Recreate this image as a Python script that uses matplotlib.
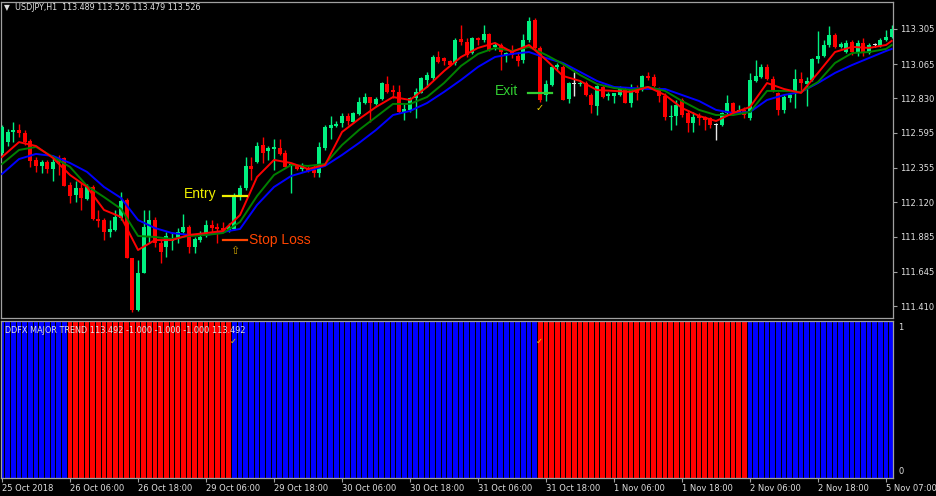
import matplotlib
matplotlib.use('Agg')
import matplotlib.pyplot as plt

# USDJPY H1 candles, bar 0 = 25 Oct 2018
opens = [
    112.456, 112.531, 112.600, 112.614, 112.593, 112.538, 112.409, 112.368, 112.395, 112.347,
    112.409, 112.422, 112.238, 112.169, 112.217, 112.142, 112.224, 112.005, 111.998, 111.916,
    111.930, 112.012, 112.135, 111.738, 111.383, 111.636, 111.882, 111.998, 111.841, 111.814,
    111.855, 111.875, 111.916, 111.950, 111.814, 111.861, 111.909, 111.964, 111.950, 111.943,
    111.923, 111.937, 112.155, 112.217, 112.368, 112.395, 112.511, 112.470, 112.484, 112.491,
    112.456, 112.368, 112.368, 112.347, 112.354, 112.340, 112.320, 112.491, 112.627, 112.641,
    112.662, 112.710, 112.668, 112.723, 112.798, 112.839, 112.792, 112.826, 112.928, 112.887,
    112.874, 112.737, 112.751, 112.833, 112.867, 112.956, 112.970, 113.113, 113.106, 113.086,
    113.072, 113.236, 113.216, 113.140, 113.243, 113.229, 113.270, 113.182, 113.195, 113.127,
    113.154, 113.120, 113.093, 113.229, 113.366, 113.175, 112.853, 112.922, 113.045, 113.045,
    112.826, 112.928, 112.928, 112.935, 112.853, 112.778, 112.908, 112.846, 112.846, 112.853,
    112.894, 112.798, 112.887, 112.887, 112.983, 112.976, 112.894, 112.846, 112.703, 112.710,
    112.819, 112.730, 112.662, 112.710, 112.703, 112.696, 112.648, 112.648, 112.730, 112.798,
    112.737, 112.751, 112.696, 112.949, 112.976, 113.045, 112.963, 112.867, 112.751, 112.833,
    112.874, 112.963, 112.928, 112.956, 113.099, 113.120, 113.195, 113.264, 113.182, 113.147,
    113.216, 113.140, 113.209, 113.140, 113.195, 113.188, 113.229, 113.250,
]
highs = [
    112.648, 112.620, 112.668, 112.655, 112.614, 112.552, 112.429, 112.409, 112.409, 112.422,
    112.443, 112.429, 112.258, 112.265, 112.251, 112.244, 112.238, 112.067, 112.012, 111.998,
    112.067, 112.190, 112.149, 111.740, 111.725, 112.067, 112.067, 112.019, 111.861, 111.916,
    111.916, 111.943, 112.039, 111.964, 111.882, 111.923, 111.998, 111.998, 111.978, 111.985,
    111.978, 112.183, 112.238, 112.429, 112.429, 112.531, 112.565, 112.504, 112.552, 112.552,
    112.477, 112.388, 112.374, 112.388, 112.368, 112.374, 112.531, 112.648, 112.710, 112.675,
    112.730, 112.730, 112.737, 112.839, 112.867, 112.842, 112.839, 112.942, 112.983, 112.922,
    112.922, 112.798, 112.839, 112.901, 112.976, 113.011, 113.127, 113.154, 113.113, 113.093,
    113.243, 113.332, 113.243, 113.250, 113.250, 113.332, 113.277, 113.209, 113.209, 113.147,
    113.195, 113.147, 113.270, 113.387, 113.380, 113.188, 112.956, 113.058, 113.072, 113.058,
    112.942, 113.011, 112.956, 112.949, 112.867, 112.922, 112.922, 112.874, 112.870, 112.915,
    112.908, 112.928, 112.922, 112.990, 113.011, 112.997, 112.908, 112.867, 112.785, 112.819,
    112.833, 112.751, 112.737, 112.730, 112.710, 112.703, 112.662, 112.737, 112.853, 112.805,
    112.785, 112.771, 113.004, 113.093, 113.065, 113.065, 112.983, 112.874, 112.853, 112.867,
    113.031, 113.011, 112.976, 113.106, 113.291, 113.229, 113.325, 113.277, 113.216, 113.229,
    113.229, 113.229, 113.243, 113.209, 113.209, 113.243, 113.298, 113.332,
]
lows = [
    112.443, 112.504, 112.531, 112.565, 112.511, 112.361, 112.327, 112.320, 112.320, 112.265,
    112.306, 112.228, 112.114, 112.121, 112.067, 112.135, 112.000, 111.950, 111.861, 111.882,
    111.923, 111.998, 111.735, 111.369, 111.376, 111.633, 111.841, 111.814, 111.704, 111.745,
    111.793, 111.841, 111.909, 111.772, 111.772, 111.848, 111.882, 111.916, 111.841, 111.916,
    111.916, 111.930, 112.135, 112.203, 112.272, 112.388, 112.388, 112.409, 112.340, 112.443,
    112.358, 112.183, 112.340, 112.333, 112.327, 112.292, 112.292, 112.477, 112.552, 112.634,
    112.634, 112.648, 112.662, 112.716, 112.792, 112.668, 112.785, 112.819, 112.867, 112.833,
    112.730, 112.682, 112.737, 112.696, 112.864, 112.908, 112.956, 113.072, 113.058, 113.052,
    113.058, 113.195, 113.113, 113.134, 113.195, 113.216, 113.154, 113.161, 113.024, 113.079,
    113.106, 113.052, 113.072, 113.216, 113.161, 112.805, 112.812, 112.915, 113.024, 112.816,
    112.798, 112.846, 112.915, 112.846, 112.730, 112.716, 112.833, 112.819, 112.798, 112.846,
    112.795, 112.771, 112.819, 112.881, 112.956, 112.908, 112.805, 112.682, 112.614, 112.648,
    112.703, 112.600, 112.600, 112.648, 112.614, 112.627, 112.545, 112.641, 112.723, 112.716,
    112.730, 112.696, 112.682, 112.942, 112.970, 112.956, 112.874, 112.716, 112.730, 112.805,
    112.764, 112.874, 112.778, 112.949, 113.072, 113.113, 113.182, 113.175, 113.175, 113.140,
    113.127, 113.120, 113.120, 113.134, 113.182, 113.182, 113.222, 113.243,
]
closes = [
    112.634, 112.600, 112.614, 112.593, 112.531, 112.402, 112.368, 112.395, 112.347, 112.395,
    112.395, 112.231, 112.162, 112.217, 112.149, 112.224, 112.005, 111.991, 111.916, 111.937,
    112.019, 112.128, 111.738, 111.383, 111.636, 111.950, 111.998, 111.841, 111.779, 111.889,
    111.868, 111.916, 111.950, 111.814, 111.868, 111.882, 111.964, 111.943, 111.937, 111.930,
    111.950, 112.155, 112.217, 112.368, 112.347, 112.504, 112.456, 112.491, 112.498, 112.450,
    112.361, 112.381, 112.347, 112.368, 112.333, 112.320, 112.498, 112.634, 112.648, 112.655,
    112.710, 112.675, 112.730, 112.805, 112.839, 112.798, 112.826, 112.935, 112.874, 112.874,
    112.737, 112.757, 112.833, 112.874, 112.970, 112.990, 113.113, 113.079, 113.086, 113.058,
    113.229, 113.216, 113.127, 113.243, 113.229, 113.270, 113.161, 113.195, 113.147, 113.140,
    113.127, 113.086, 113.229, 113.359, 113.175, 112.819, 112.928, 113.045, 113.058, 112.819,
    112.935, 112.928, 112.935, 112.853, 112.785, 112.915, 112.839, 112.860, 112.867, 112.908,
    112.798, 112.887, 112.867, 112.983, 112.970, 112.915, 112.846, 112.703, 112.710, 112.785,
    112.716, 112.662, 112.703, 112.696, 112.682, 112.648, 112.648, 112.730, 112.798, 112.737,
    112.751, 112.716, 112.956, 112.983, 113.045, 112.963, 112.881, 112.751, 112.839, 112.853,
    112.963, 112.935, 112.949, 113.099, 113.120, 113.195, 113.264, 113.182, 113.202, 113.209,
    113.147, 113.209, 113.140, 113.195, 113.195, 113.229, 113.250, 113.305,
]

# moving averages sampled every 3 bars
ma_bars = [0, 3, 6, 9, 12, 15, 18, 21, 24, 27, 30, 33, 36, 39, 42, 45, 48, 51, 54, 57,
           60, 63, 66, 69, 72, 75, 78, 81, 84, 87, 90, 93, 96, 99, 102, 105, 108, 111, 114, 117,
           120, 123, 126, 129, 132, 135, 138, 141, 144, 147, 150, 153, 156, 157]
red_ma = [112.429, 112.531, 112.504, 112.422, 112.306, 112.224, 112.067, 112.019, 111.793, 111.861,
          111.861, 111.896, 111.909, 111.923, 112.032, 112.292, 112.409, 112.388, 112.347, 112.374,
          112.600, 112.689, 112.771, 112.839, 112.819, 112.908, 113.017, 113.113, 113.175, 113.209,
          113.147, 113.195, 113.093, 112.983, 112.949, 112.887, 112.881, 112.874, 112.908, 112.853,
          112.764, 112.710, 112.675, 112.730, 112.771, 112.935, 112.894, 112.867, 113.004, 113.147,
          113.182, 113.175, 113.195, 113.223]
green_ma = [112.381, 112.477, 112.498, 112.429, 112.361, 112.231, 112.155, 112.074, 111.889, 111.882,
            111.868, 111.889, 111.896, 111.909, 111.985, 112.162, 112.306, 112.374, 112.368, 112.381,
            112.511, 112.614, 112.703, 112.792, 112.792, 112.839, 112.935, 113.052, 113.134, 113.175,
            113.154, 113.182, 113.127, 113.065, 112.990, 112.928, 112.901, 112.887, 112.908, 112.881,
            112.812, 112.751, 112.716, 112.716, 112.737, 112.881, 112.881, 112.874, 112.942, 113.072,
            113.140, 113.147, 113.168, 113.195]
blue_ma = [112.313, 112.415, 112.450, 112.436, 112.388, 112.327, 112.224, 112.149, 111.998, 111.943,
           111.909, 111.896, 111.896, 111.916, 111.937, 112.101, 112.224, 112.299, 112.333, 112.368,
           112.443, 112.525, 112.614, 112.716, 112.744, 112.798, 112.874, 112.956, 113.045, 113.113,
           113.134, 113.147, 113.106, 113.072, 113.011, 112.949, 112.908, 112.901, 112.894, 112.894,
           112.853, 112.812, 112.751, 112.730, 112.737, 112.819, 112.853, 112.874, 112.935, 113.004,
           113.058, 113.106, 113.154, 113.168]

# DDFX major trend: (direction, number of bars)
trend_runs = [(1, 12), (-1, 29), (1, 54), (-1, 37), (1, 26)]

price_ticks = [113.305, 113.065, 112.830, 112.595, 112.355, 112.120, 111.885, 111.645, 111.410]
time_ticks = [0, 12, 24, 36, 48, 60, 72, 84, 96, 108, 120, 132, 144, 156]
time_labels = ['25 Oct 2018', '26 Oct 06:00', '26 Oct 18:00', '29 Oct 06:00', '29 Oct 18:00',
               '30 Oct 06:00', '30 Oct 18:00', '31 Oct 06:00', '31 Oct 18:00', '1 Nov 06:00',
               '1 Nov 18:00', '2 Nov 06:00', '2 Nov 18:00', '5 Nov 07:00']

UP, DOWN, DOJI = '#00f080', '#ff0000', '#e8e8e8'
AXC = '#a0a0a0'
TXT = '#e0e0e0'
W, H = 936, 496


def box(x0, y0, x1, y1):
    return [x0 / W, 1 - y1 / H, (x1 - x0) / W, (y1 - y0) / H]


fig = plt.figure(figsize=(W / 100, H / 100), dpi=100, facecolor='black')
ax = fig.add_axes(box(1, 2, 893, 318), facecolor='black')
ax2 = fig.add_axes(box(1, 321, 893, 478), facecolor='black')

n = len(closes)
xs = list(range(n))
xlim = (-0.18, 157.23)

# candles
cols = [UP if c > o else DOWN if c < o else DOJI for o, c in zip(opens, closes)]
ax.vlines(xs, lows, highs, colors=cols, linewidth=1.0, zorder=2)
bottoms = [min(o, c) for o, c in zip(opens, closes)]
heights = [max(abs(c - o), 0.006) for o, c in zip(opens, closes)]
ax.bar(xs, heights, bottom=bottoms, width=0.68, color=cols, linewidth=0, zorder=3)

ax.plot(ma_bars, blue_ma, color='#0000ff', lw=1.4, zorder=4)
ax.plot(ma_bars, green_ma, color='#008000', lw=1.4, zorder=5)
ax.plot(ma_bars, red_ma, color='#ff0000', lw=1.4, zorder=6)

ax.set_xlim(*xlim)
ax.set_ylim(111.328, 113.489)
ax.yaxis.tick_right()
ax.set_yticks(price_ticks)
ax.set_yticklabels([f'{p:.3f}' for p in price_ticks])
ax.tick_params(axis='y', colors=AXC, labelcolor=TXT, labelsize=6, length=3, width=0.8, pad=2)
ax.set_xticks([])
for s in ax.spines.values():
    s.set_color(AXC)
    s.set_linewidth(0.9)

# trade annotations
ann = dict(family='Liberation Sans', fontsize=10)
ax.plot([39.0, 43.2], [112.162, 112.162], color='#f0f000', lw=1.6, zorder=7)
ax.text(37.9, 112.175, 'Entry', color='#f0f000', ha='right', va='center', **ann)
ax.plot([39.0, 43.2], [111.861, 111.861], color='#ff4500', lw=1.6, zorder=7)
ax.text(43.6, 111.861, 'Stop Loss', color='#ff4500', ha='left', va='center', **ann)
ax.text(41.1, 111.786, '\u21e7', color='#c8a000', ha='center', va='center', fontsize=8)
ax.plot([92.8, 97.1], [112.867, 112.867], color='#32cd32', lw=1.6, zorder=7)
ax.text(91.1, 112.880, 'Exit', color='#32cd32', ha='right', va='center', **ann)
ax.text(94.9, 112.764, '\u2713', color='#e8d000', ha='center', va='center', fontsize=7)

# trend histogram
colors2 = []
for d, k in trend_runs:
    colors2 += ['#0000ff' if d > 0 else '#ff0000'] * k
ax2.bar(xs, [1] * n, width=0.84, color=colors2, linewidth=0, antialiased=False)
ax2.set_xlim(*xlim)
ax2.set_ylim(0, 1)
ax2.set_yticks([])
ax2.set_xticks(time_ticks)
ax2.set_xticklabels(time_labels)
for lab in ax2.get_xticklabels():
    lab.set_horizontalalignment('left')
ax2.tick_params(axis='x', colors=AXC, labelcolor=TXT, labelsize=6, length=3, width=0.8, pad=1.5)
for s in ax2.spines.values():
    s.set_color(AXC)
    s.set_linewidth(0.9)
ax2.text(1.006, 0.985, '1', transform=ax2.transAxes, color=TXT, fontsize=6, ha='left', va='top')
ax2.text(1.006, 0.01, '0', transform=ax2.transAxes, color=TXT, fontsize=6, ha='left', va='bottom')
ax2.text(0.005, 0.97, 'DDFX MAJOR TREND 113.492 -1.000 -1.000 -1.000 113.492',
         transform=ax2.transAxes, color=TXT, fontsize=5.9, ha='left', va='top')
for bx in (40.8, 94.8):
    ax2.text(bx, 0.87, '\u2713', color='#e8d000', ha='center', va='center', fontsize=6)

# header
fig.text(4 / W, 1 - 8 / H, '\u25bc', color=TXT, fontsize=5.5, va='center')
fig.text(15 / W, 1 - 8 / H, 'USDJPY,H1  113.489 113.526 113.479 113.526',
         color=TXT, fontsize=5.8, va='center')

fig.savefig('out.png', dpi=100, facecolor='black')
